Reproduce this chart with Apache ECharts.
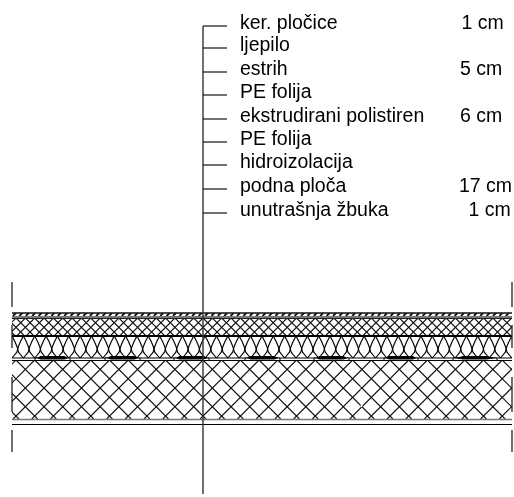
<!DOCTYPE html>
<html>
<head>
<meta charset="utf-8">
<style>
html, body { margin: 0; padding: 0; background: #fff; }
#main { width: 514px; height: 497px; }
</style>
</head>
<body>
<div id="main"></div>
<script src="https://cdn.jsdelivr.net/npm/echarts@6/dist/echarts.min.js"></script>
<script>
// layer build-up, top to bottom
const layerNames = ['ker. pločice', 'ljepilo', 'estrih', 'PE folija', 'ekstrudirani polistiren', 'PE folija', 'hidroizolacija', 'podna ploča', 'unutrašnja žbuka']
const layerThickness = ['1 cm', '', '5 cm', '', '6 cm', '', '', '17 cm', '1 cm']
const leaderDepths = [26, 48, 72, 95, 119, 142, 165, 189, 213]
const thicknessStart = [461.5, 0, 460, 0, 460, 0, 0, 459, 468.5]

// section levels
const tileBand = [313, 316]
const screedBand = [318, 336]
const insulationBand = [336, 358]
const slabBand = [360, 419]
const sectionLines = [
  { y: 313, w: 1.5, c: '#111' },
  { y: 317, w: 2, c: '#777' },
  { y: 318.5, w: 1, c: '#222' },
  { y: 336, w: 2, c: '#000' },
  { y: 358, w: 1, c: '#000' },
  { y: 360.5, w: 1, c: '#000' },
  { y: 419.5, w: 1.5, c: '#777' },
  { y: 424.5, w: 1, c: '#000' }
]
const sectionStart = 12
const sectionEnd = 512
const breakTicks = [[282, 307], [325, 348], [377, 412], [430, 452]]
const axisLineX = 203
const axisLineEnd = 494
const leaderEnd = 227
const textStart = 240
const membranePatches = [[35, 70], [105, 140], [174, 209], [245, 280], [314, 349], [384, 418], [453, 497]]
const slabGap = [361.5, 384, 413]
const labelFont = '19.5px "Liberation Sans", Arial, sans-serif'

function straight (a, b, lineWidth, color) {
  return {
    type: 'line',
    shape: { x1: a[0], y1: a[1], x2: b[0], y2: b[1] },
    style: { stroke: color, lineWidth: lineWidth, fill: null }
  }
}

function clipBand (api, band) {
  const p0 = api.coord([sectionStart, band[0]])
  const p1 = api.coord([sectionEnd, band[1]])
  return { type: 'rect', shape: { x: p0[0], y: p0[1], width: p1[0] - p0[0], height: p1[1] - p0[1] } }
}

// 45 degree hatch, phase = x where the lines meet on the top edge of the band
function crossHatch (api, band, period, lineWidth, color, both, phase) {
  const kids = []
  const h = band[1] - band[0]
  for (let x = phase - period * Math.ceil((phase - sectionStart + h) / period); x < sectionEnd + h; x += period) {
    kids.push(straight(api.coord([x, band[0]]), api.coord([x - h, band[1]]), lineWidth, color))
    if (both) kids.push(straight(api.coord([x, band[0]]), api.coord([x + h, band[1]]), lineWidth, color))
  }
  return { type: 'group', clipPath: clipBand(api, band), children: kids }
}

// insulation: chain of teardrops, pointed at the top, touching at the sides
function insulation (api, band, period) {
  const kids = []
  const top = band[0]
  const bot = band[1]
  const yc = top + (bot - top) * 0.6
  for (let cx = sectionStart; cx < sectionEnd + period; cx += period) {
    const half = period / 2
    const right = [[cx, top], [cx + half * 0.55, top + 6], [cx + half * 0.92, yc - 2], [cx + half, yc], [cx + half * 0.85, yc + 3], [cx + half * 0.3, bot - 2], [cx, bot]]
    const left = right.map(q => [2 * cx - q[0], q[1]])
    const stroke = { stroke: '#000', lineWidth: 1.15, fill: null }
    kids.push({ type: 'polyline', shape: { points: right.map(q => api.coord(q)) }, style: stroke })
    kids.push({ type: 'polyline', shape: { points: left.map(q => api.coord(q)) }, style: stroke })
  }
  return { type: 'group', clipPath: clipBand(api, band), children: kids }
}

const myChart = echarts.init(document.getElementById('main'), null, { renderer: 'canvas' })

const option = {
  animation: false,
  backgroundColor: '#fff',
  grid: { left: 0, right: 0, top: 0, bottom: 0 },
  xAxis: { type: 'value', min: 0, max: 514, show: false },
  yAxis: { type: 'value', min: 0, max: 497, inverse: true, show: false },
  series: [
    {
      type: 'custom',
      coordinateSystem: 'cartesian2d',
      silent: true,
      clip: false,
      data: [[0, 0]],
      renderItem: (params, api) => {
        const kids = []
        // hatching
        kids.push(crossHatch(api, tileBand, 6.4, 1.8, '#111', false, 16))
        kids.push(crossHatch(api, screedBand, 9.35, 1.1, '#111', true, 16))
        kids.push(insulation(api, insulationBand, 11.36))
        kids.push(crossHatch(api, slabBand, 18.7, 1.15, '#111', true, 16))
        // level lines
        sectionLines.forEach(l => {
          kids.push(straight(api.coord([sectionStart, l.y]), api.coord([sectionEnd, l.y]), l.w, l.c))
        })
        // membrane patches
        membranePatches.forEach(p => {
          const a = api.coord([p[0], 358])
          const b = api.coord([p[1], 360.5])
          kids.push({ type: 'rect', shape: { x: a[0], y: a[1], width: b[0] - a[0], height: b[1] - a[1] }, style: { fill: '#fff', stroke: '#000', lineWidth: 1 } })
          const m = (p[0] + p[1]) / 2
          const pts = [[p[0] + 2, 358], [m - 12, 356], [m + 12, 356], [p[1] - 2, 358], [m + 12, 359.5], [m - 12, 359.5]]
          kids.push({ type: 'polygon', shape: { points: pts.map(q => api.coord(q)) }, style: { fill: '#000' } })
        })
        // small white gap in the slab hatch
        kids.push({
          type: 'line',
          shape: { x1: api.coord([slabGap[0], 0])[0], y1: api.coord([0, slabGap[1]])[1], x2: api.coord([slabGap[0], 0])[0], y2: api.coord([0, slabGap[2]])[1] },
          style: { stroke: '#fff', lineWidth: 1.5, lineDash: [3, 2] }
        })
        // break marks at both ends
        breakTicks.forEach(t => {
          kids.push(straight(api.coord([sectionStart, t[0]]), api.coord([sectionStart, t[1]]), 1.3, '#222'))
          kids.push(straight(api.coord([sectionEnd, t[0]]), api.coord([sectionEnd, t[1]]), 1.3, '#222'))
        })
        // leader stem
        kids.push(straight(api.coord([axisLineX, leaderDepths[0]]), api.coord([axisLineX, axisLineEnd]), 1.4, '#333'))
        return { type: 'group', children: kids }
      }
    },
    {
      type: 'custom',
      coordinateSystem: 'cartesian2d',
      silent: true,
      clip: false,
      data: leaderDepths.map((d, i) => [axisLineX, d, i]),
      renderItem: (params, api) => {
        const i = api.value(2)
        const d = api.value(1)
        const a = api.coord([axisLineX, d])
        const b = api.coord([leaderEnd, d])
        const t = api.coord([textStart, d])
        const kids = [
          straight(a, b, 1.2, '#111'),
          { type: 'text', x: t[0], y: t[1] - 2, style: { text: layerNames[i], font: labelFont, fill: '#000', textAlign: 'left', textVerticalAlign: 'middle' } }
        ]
        if (layerThickness[i]) {
          const v = api.coord([thicknessStart[i], d])
          kids.push({ type: 'text', x: v[0], y: v[1] - 2, style: { text: layerThickness[i], font: labelFont, fill: '#000', textAlign: 'left', textVerticalAlign: 'middle' } })
        }
        return { type: 'group', children: kids }
      }
    }
  ]
}

myChart.setOption(option)

window.addEventListener('resize', () => {
  myChart.resize()
})
</script>
</body>
</html>
